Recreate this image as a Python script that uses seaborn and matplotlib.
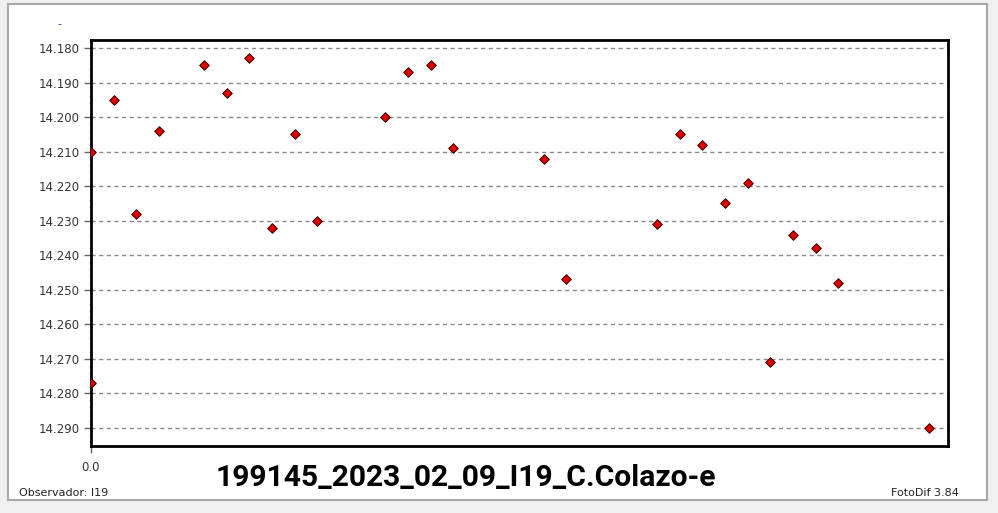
# Light curve plot, FotoDif style

import numpy as np
import pandas as pd
import seaborn as sns
import matplotlib.pyplot as plt
from matplotlib.patches import Rectangle
from matplotlib.ticker import MultipleLocator, FormatStrFormatter

# frame index of each measurement and its magnitude
frame = [0, 0, 1, 2, 3, 5, 6, 7, 8, 9, 10, 13, 14, 15, 16, 20, 21,
         25, 26, 27, 28, 29, 30, 31, 32, 33, 37]
mag = [14.210, 14.277, 14.195, 14.228, 14.204, 14.185, 14.193, 14.183, 14.232,
       14.205, 14.230, 14.200, 14.187, 14.185, 14.209, 14.212, 14.247,
       14.231, 14.205, 14.208, 14.225, 14.219, 14.271, 14.234, 14.238,
       14.248, 14.290]

title = '199145_2023_02_09_I19_C.Colazo-e'
observer = 'Observador: I19'
software = 'FotoDif 3.84'

if __name__ == '__main__':

  data = pd.DataFrame(dict(frame=frame, mag=mag))

  sns.set_style('white')
  plt.rcParams['font.family'] = ['DejaVu Sans']

  fig = plt.figure(figsize=(9.98, 5.13), dpi=100)
  fig.patch.set_facecolor('#f0f0f0')
  # white panel with a thin grey border
  fig.patches.append(Rectangle((8 / 998, 1 - 500 / 513), 979 / 998, 496 / 513,
                               transform=fig.transFigure, facecolor='white',
                               edgecolor='#a8a8a8', linewidth=1.5, zorder=-5))

  ax = fig.add_axes([91 / 998, 1 - 446 / 513, 857 / 998, 406 / 513])
  sns.scatterplot(data=data, x='frame', y='mag', marker='D', s=24,
                  color='#dd0000', edgecolor='#3a0000', linewidth=0.7,
                  zorder=3, ax=ax)

  ax.set_xlim(0, 37.85)
  ax.set_ylim(14.2952, 14.1777)
  ax.set_xticks([0])
  ax.set_xticklabels(['0.0'])
  ax.yaxis.set_major_locator(MultipleLocator(0.01))
  ax.yaxis.set_minor_locator(MultipleLocator(0.002))
  ax.yaxis.set_major_formatter(FormatStrFormatter('%.3f'))
  ax.set_xlabel('')
  ax.set_ylabel('')

  ax.tick_params(axis='both', which='major', direction='out', length=5,
                 width=1, color='#666666', labelcolor='#333333', labelsize=8.5)
  ax.tick_params(axis='y', which='minor', direction='out', length=1.5,
                 width=0.6, color='#aaaaaa', left=True)
  ax.tick_params(axis='x', bottom=True, pad=6)
  ax.tick_params(axis='y', left=True, pad=3)

  ax.yaxis.grid(True, which='major', linestyle=(0, (3, 2.5)),
                color='#8a8a8a', linewidth=1)
  ax.xaxis.grid(False)
  for side in ax.spines.values():
    side.set_color('black')
    side.set_linewidth(2)

  fig.text(466 / 998, 1 - 478 / 513, title, ha='center', va='center',
           fontsize=21.6, fontweight='bold',
           family=['Liberation Sans Narrow', 'Roboto'], color='black')
  fig.text(19 / 998, 1 - 493 / 513, observer, ha='left', va='center',
           fontsize=8, color='#222222')
  fig.text(959 / 998, 1 - 493 / 513, software, ha='right', va='center',
           fontsize=8, color='#222222')
  fig.text(59 / 998, 1 - 24 / 513, '-', ha='center', va='center',
           fontsize=8, color='#2030a0')

  fig.savefig('out.png', dpi=100, facecolor=fig.get_facecolor())
